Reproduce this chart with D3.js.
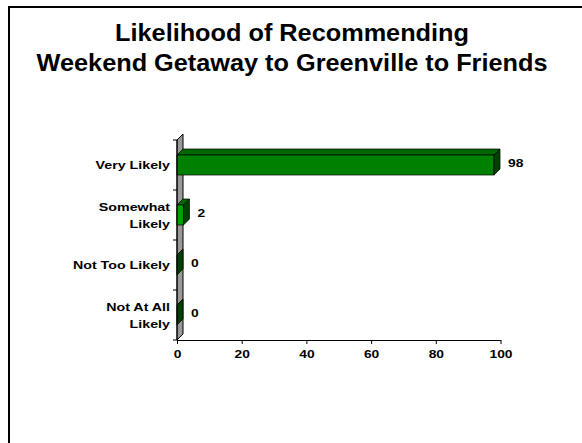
<!DOCTYPE html>
<html><head><meta charset="utf-8">
<script src="https://cdn.jsdelivr.net/npm/d3@7"></script>
<style>body{margin:0;background:#fff}svg{display:block}text{font-family:"Liberation Sans",Arial,sans-serif;font-weight:bold;fill:#000}</style>
</head><body>
<svg id="c" width="582" height="443"></svg>
<script>
const titleLines = ["Likelihood of Recommending", "Weekend Getaway to Greenville to Friends"];
const categories = ["Very Likely", "Somewhat Likely", "Not Too Likely", "Not At All Likely"];
const categoryLines = [["Very Likely"], ["Somewhat", "Likely"], ["Not Too Likely"], ["Not At All", "Likely"]];
const values = [98, 2, 0, 0];
const xTicks = [0, 20, 40, 60, 80, 100];

const svg = d3.select("#c");
const x = d3.scaleLinear().domain([0, 100]).range([177, 500.5]);
const y = d3.scaleBand().domain(categories).range([140, 340]).paddingInner(0.6).paddingOuter(0.3);
const dx = 6, dy = -6;

// frame (top and left lines)
svg.append("path").attr("d", "M9,443 V7 H582").attr("fill", "none").attr("stroke", "#000").attr("stroke-width", 2);

// title
titleLines.forEach((t, i) => {
  svg.append("text").attr("text-anchor", "middle").attr("font-size", 23)
    .attr("transform", `translate(292,${41 + i * 30}) scale(1.1,1)`).text(t);
});

// wall
const x0 = x(0), yTop = 140, yBot = 340;
svg.append("path")
  .attr("d", `M${x0},${yBot} L${x0 + dx},${yBot + dy} L${x0 + dx},${yTop + dy} L${x0},${yTop} Z`)
  .attr("fill", "#999").attr("stroke", "#000").attr("stroke-width", 1);

// bars
const colors = ["#008000", "#00a000", "#008000", "#008000"];
const g = svg.append("g");
categories.forEach((c, i) => {
  const xv = x(values[i]), y0 = y(c), h = y.bandwidth();
  g.append("path").attr("d", `M${x0},${y0} L${x0 + dx},${y0 + dy} L${xv + dx},${y0 + dy} L${xv},${y0} Z`)
    .attr("fill", "#006800").attr("stroke", "#000").attr("stroke-width", 0.7);
  if (values[i] > 0)
    g.append("rect").attr("x", x0).attr("y", y0).attr("width", xv - x0).attr("height", h)
      .attr("fill", colors[i]).attr("stroke", "#000").attr("stroke-width", 0.7);
  g.append("path").attr("d", `M${xv},${y0} L${xv + dx},${y0 + dy} L${xv + dx},${y0 + h + dy} L${xv},${y0 + h} Z`)
    .attr("fill", "#004000").attr("stroke", "#000").attr("stroke-width", 0.7);
  svg.append("text").attr("font-size", 11.5)
    .attr("transform", `translate(${xv + dx + 8},${y0 + h / 2 + 2}) scale(1.2,1)`)
    .text(values[i]);
});

// left axis
svg.append("line").attr("x1", x0).attr("x2", x0).attr("y1", yTop).attr("y2", yBot).attr("stroke", "#000");
const bandTicks = categories.map(c => y(c) - y.step() * 0.3).concat([yBot]);
bandTicks.forEach(t => svg.append("line").attr("x1", x0 - 4).attr("x2", x0).attr("y1", t).attr("y2", t).attr("stroke", "#000"));

// category labels
categories.forEach((c, i) => {
  const lines = categoryLines[i];
  const cy = y(c) + y.bandwidth() / 2;
  lines.forEach((ln, j) => {
    const ly = cy + (j - (lines.length - 1) / 2) * 17 + 4;
    svg.append("text").attr("text-anchor", "end").attr("font-size", 11.5)
      .attr("transform", `translate(170,${ly}) scale(1.24,1)`).text(ln);
  });
});

// bottom axis
const xAxis = d3.axisBottom(x).tickValues(xTicks).tickSize(4).tickPadding(6).tickSizeOuter(0);
const ax = svg.append("g").attr("transform", `translate(0,${yBot})`).call(xAxis);
ax.select(".domain").attr("stroke", "#000");
ax.selectAll(".tick line").attr("stroke", "#000");
ax.selectAll(".tick text").attr("font-size", 11.5).attr("font-family", '"Liberation Sans",Arial,sans-serif')
  .attr("font-weight", "bold").attr("fill", "#000")
  .attr("transform", "scale(1.2,1)");
</script>
</body></html>
